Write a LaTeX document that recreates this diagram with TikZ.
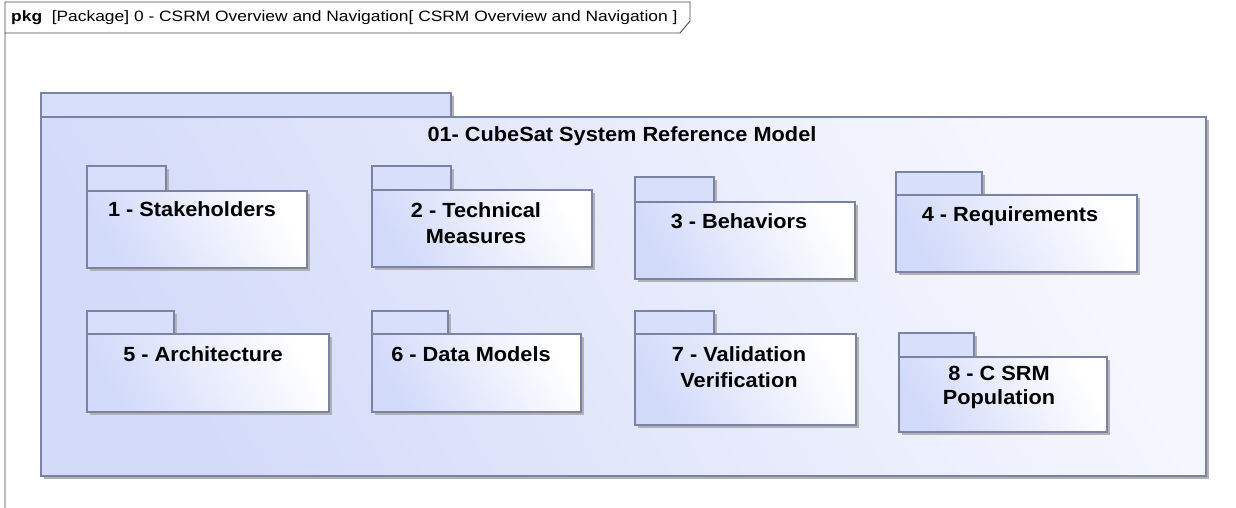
\documentclass[tikz,border=0pt]{standalone}
\usepackage{fontspec}
\setmainfont{Liberation Sans}[FakeStretch=1.06]
\newfontfamily\headfont{Liberation Sans}[FakeStretch=1.16]
\begin{document}
\begin{tikzpicture}[x=1pt,y=-1pt,
  framec/.style={draw=black!70,line width=0.9pt},
  shadowc/.style={fill=black!30},
  outerbody/.style={draw=pkgline,line width=1.3pt,shading=axis,left color=outerblue,right color=outerwhite,shading angle=120},
  outertab/.style={draw=pkgline,line width=1.3pt,fill=tabblue},
  pkgbody/.style={draw=pkgline,line width=1.3pt,shading=axis,left color=pkgblue,right color=white,shading angle=120},
  pkgtab/.style={draw=pkgline,line width=1.3pt,fill=tabblue},
  pkgtext/.style={font=\fontsize{20.5}{26}\selectfont\bfseries,align=center,anchor=north,inner sep=0pt},
  headtext/.style={font=\headfont\fontsize{15}{18}\selectfont,anchor=base west,inner sep=0pt}]
\definecolor{pkgline}{RGB}{122,130,166}
\definecolor{outerblue}{RGB}{212,219,249}
\definecolor{outerwhite}{RGB}{246,247,254}
\definecolor{pkgblue}{RGB}{210,218,250}
\definecolor{tabblue}{RGB}{216,223,250}
\useasboundingbox (0,0) rectangle (1236,508);
\fill[white] (0,0) rectangle (1236,508);
% diagram frame
\draw[framec] (5,520) -- (5,2) -- (690,2) -- (690,21) -- (680,33) -- (5,33);
\node[headtext] (head) at (11,22) {\textbf{pkg}\ \ [Package] 0 - CSRM Overview and Navigation[ CSRM Overview and Navigation ]};
% package macro: x1, tabtop, tabright, bodytop, x2, bottom
\newcommand\pkgshape[8]{%
  \fill[shadowc] (#1+3,#2+3) rectangle (#3+3,#4+3);
  \fill[shadowc] (#1+3,#4+3) rectangle (#5+3,#6+3);
  \path[#7] (#1,#2) rectangle (#3,#4);
  \path[#8] (#1,#4) rectangle (#5,#6);}
% outer package
\pkgshape{41}{93}{451}{117}{1206}{476}{outertab}{outerbody}
\node[pkgtext] (title) at (622,126) {01- CubeSat System Reference Model};
% inner packages
\pkgshape{87}{166}{166}{191}{307}{268}{pkgtab}{pkgbody}
\node[pkgtext] (p1) at (192,201) {1 - Stakeholders};
\pkgshape{372}{166}{451}{190}{592}{267}{pkgtab}{pkgbody}
\node[pkgtext] (p2) at (476,202) {2 - Technical\\Measures};
\pkgshape{635}{177}{714}{202}{855}{279}{pkgtab}{pkgbody}
\node[pkgtext] (p3) at (739,213) {3 - Behaviors};
\pkgshape{896}{172}{982}{195}{1137}{272}{pkgtab}{pkgbody}
\node[pkgtext] (p4) at (1010,206) {4 - Requirements};
\pkgshape{87}{311}{174}{334}{329}{412}{pkgtab}{pkgbody}
\node[pkgtext] (p5) at (203,346) {5 - Architecture};
\pkgshape{372}{311}{448}{334}{581}{412}{pkgtab}{pkgbody}
\node[pkgtext] (p6) at (471,346) {6 - Data Models};
\pkgshape{635}{311}{714}{334}{856}{425}{pkgtab}{pkgbody}
\node[pkgtext] (p7) at (739,346) {7 - Validation\\Verification};
\pkgshape{899}{333}{974}{357}{1107}{432}{pkgtab}{pkgbody}
\node[pkgtext,font=\fontsize{20.5}{24}\selectfont\bfseries] (p8) at (999,366) {8 - C SRM\\Population};
\end{tikzpicture}
\end{document}
